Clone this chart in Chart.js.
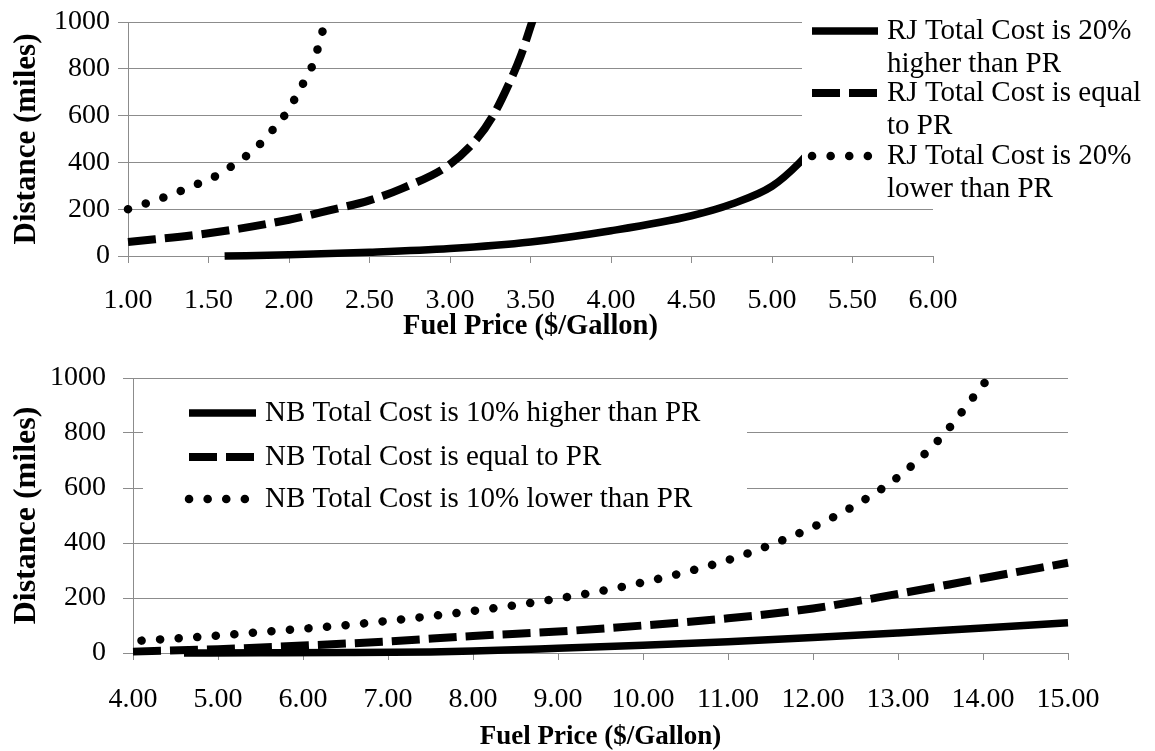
<!DOCTYPE html>
<html lang="en">
<head>
<meta charset="UTF-8">
<script src="https://cdn.jsdelivr.net/npm/chart.js"></script>
<title>Fuel price break-even distance</title>
<style>
  body { margin: 0; background: #fff; width: 1155px; height: 751px; overflow: hidden; }
  .box { position: absolute; left: 0; width: 1155px; }
  #top { top: 0; height: 345px; }
  #bot { top: 345px; height: 406px; }
</style>
</head>
<body>
<div class="box" id="top"><canvas id="chartTop"></canvas></div>
<div class="box" id="bot"><canvas id="chartBot"></canvas></div>
<script>
// ---- top chart (RJ vs PR), fuel price $/gal -> distance miles
const rjHigherPrice = [1.6, 2.0, 2.5, 3.0, 3.5, 4.0, 4.5, 4.75, 5.0, 5.17, 5.3];
const rjHigherDist  = [0, 5, 16, 32, 60, 108, 172, 222, 298, 398, 500];
const rjEqualPrice  = [1.0, 1.5, 2.0, 2.25, 2.5, 2.7, 3.0, 3.17, 3.27, 3.37, 3.44, 3.51, 3.53];
const rjEqualDist   = [60, 97, 155, 195, 238, 288, 392, 503, 603, 742, 856, 1000, 1040];
const rjLowerPrice  = [1.0, 1.1, 1.2, 1.3, 1.4, 1.5, 1.6, 1.7, 1.8, 1.9, 2.0, 2.05, 2.1, 2.15, 2.2, 2.225];
const rjLowerDist   = [200, 222, 245, 270, 300, 325, 365, 410, 465, 540, 628, 690, 753, 822, 940, 1000];
const rjNames = [
  ['RJ Total Cost is 20%', 'higher than PR'],
  ['RJ Total Cost is equal', 'to PR'],
  ['RJ Total Cost is 20%', 'lower than PR']
];
const rjTicksX = { min: 1, max: 6, step: 0.5 };

// ---- bottom chart (NB vs PR)
const nbHigherPrice = [4.6, 5.5, 6.5, 7.5, 8.0, 9.0, 10.0, 11.0, 12.0, 13.0, 14.0, 15.0];
const nbHigherDist  = [0, 0.5, 1.5, 4, 7, 17, 28, 41, 56, 73, 91, 110];
const nbEqualPrice  = [4.0, 5.0, 6.0, 7.0, 8.0, 9.0, 10.0, 11.0, 12.0, 13.0, 14.0, 15.0];
const nbEqualDist   = [5, 14, 27, 42, 62, 78, 100, 126, 162, 215, 272, 328];
const nbLowerPrice  = [4.1, 4.5, 5.0, 5.5, 6.0, 6.5, 7.0, 7.5, 8.0, 8.5, 9.0, 9.5, 10.0, 10.5, 11.0, 11.5, 12.0, 12.5, 13.0, 13.5, 14.0, 14.08];
const nbLowerDist   = [45, 53, 63, 76, 88, 101, 117, 134, 153, 174, 198, 225, 257, 294, 338, 393, 458, 538, 640, 782, 975, 1005];
const nbNames = [
  ['NB Total Cost is 10% higher than PR'],
  ['NB Total Cost is equal to PR'],
  ['NB Total Cost is 10% lower than PR']
];
const nbTicksX = { min: 4, max: 15, step: 1 };

const distTicks = { min: 0, max: 1000, step: 200 };

const SERIF = '"Liberation Serif", "Times New Roman", serif';
const GRID = '#8c8c8c';

function pts(xs, ys) {
  return xs.map((x, i) => ({ x: x, y: ys[i] }));
}

function styleSolid(ds) {
  return Object.assign(ds, { borderWidth: 7.5, borderDash: [], borderCapStyle: 'butt' });
}
function styleDash(ds) {
  return Object.assign(ds, { borderWidth: 8, borderDash: [28, 9], borderCapStyle: 'butt' });
}
function styleDot(ds) {
  return Object.assign(ds, { borderWidth: 8.5, borderDash: [0.1, 18.5], borderCapStyle: 'round' });
}

function makeSets(names, series) {
  const styles = [styleSolid, styleDash, styleDot];
  return series.map((s, i) => styles[i]({
    label: names[i].join(' '),
    data: pts(s[0], s[1]),
    borderColor: '#000',
    pointRadius: 0,
    fill: false,
    cubicInterpolationMode: 'monotone',
    clip: { left: 6, top: 0, right: 6, bottom: 10 }
  }));
}

// legend drawn over the plot with a white box, like the original
function boxLegend(cfg) {
  return {
    id: 'boxLegend',
    afterDatasetsDraw(chart) {
      const ctx = chart.ctx;
      ctx.save();
      ctx.fillStyle = '#fff';
      ctx.fillRect(cfg.box[0], cfg.box[1], cfg.box[2], cfg.box[3]);
      ctx.font = cfg.font;
      ctx.textBaseline = 'middle';
      ctx.textAlign = 'left';
      chart.data.datasets.forEach((ds, i) => {
        const y = cfg.rows[i];
        ctx.beginPath();
        ctx.strokeStyle = '#000';
        ctx.lineWidth = ds.borderWidth;
        ctx.setLineDash(ds.borderDash);
        ctx.lineCap = ds.borderCapStyle;
        ctx.moveTo(cfg.mark[0], y);
        ctx.lineTo(cfg.mark[1], y);
        ctx.stroke();
        ctx.fillStyle = '#000';
        cfg.names[i].forEach((line, j) => {
          ctx.fillText(line, cfg.textX, y + j * cfg.lineGap);
        });
      });
      ctx.restore();
    }
  };
}

function makeChart(id, o) {
  return new Chart(document.getElementById(id), {
    type: 'line',
    data: { datasets: o.sets },
    plugins: [o.legend],
    options: {
      responsive: true,
      maintainAspectRatio: false,
      animation: false,
      layout: { padding: o.padding },
      plugins: { legend: { display: false }, tooltip: { enabled: false } },
      scales: {
        x: {
          type: 'linear',
          min: o.xt.min, max: o.xt.max,
          afterFit: s => { s.height = o.xh; },
          ticks: {
            stepSize: o.xt.step, autoSkip: false, maxRotation: 0,
            color: '#000', padding: o.xpad,
            font: { family: SERIF, size: 28, lineHeight: 1 },
            callback: v => Number(v).toFixed(2)
          },
          grid: { drawOnChartArea: false, color: GRID, tickLength: 7 },
          border: { color: GRID },
          title: {
            display: true, text: 'Fuel Price ($/Gallon)', color: '#000',
            font: { family: SERIF, size: o.xtitleSize, weight: 'bold', lineHeight: 1 },
            padding: { top: 0, bottom: o.xtitlePad }
          }
        },
        y: {
          min: distTicks.min, max: distTicks.max,
          afterFit: s => { s.width = o.yw; },
          ticks: {
            stepSize: distTicks.step, color: '#000', padding: o.ypad,
            font: { family: SERIF, size: 28, lineHeight: 1 },
            callback: v => String(v)
          },
          grid: { color: GRID, tickLength: 10 },
          border: { color: GRID },
          title: {
            display: true, text: 'Distance (miles)', color: '#000',
            font: { family: SERIF, size: o.ytitleSize, weight: 'bold', lineHeight: 1 },
            padding: { top: 27 - o.ytitleSize / 2, bottom: 0 }
          }
        }
      }
    }
  });
}

makeChart('chartTop', {
  sets: makeSets(rjNames, [[rjHigherPrice, rjHigherDist], [rjEqualPrice, rjEqualDist], [rjLowerPrice, rjLowerDist]]),
  legend: boxLegend({
    box: [802, 0, 353, 203], mark: [812, 878], textX: 887,
    rows: [31, 93, 156], lineGap: 33, names: rjNames,
    font: '29px ' + SERIF
  }),
  padding: { top: 19, right: 222, bottom: 0, left: 0 },
  xt: rjTicksX, xh: 89, xpad: 24, yw: 128, ypad: 8,
  xtitleSize: 28.5, xtitlePad: 4, ytitleSize: 31
});

makeChart('chartBot', {
  sets: makeSets(nbNames, [[nbHigherPrice, nbHigherDist], [nbEqualPrice, nbEqualDist], [nbLowerPrice, nbLowerDist]]),
  legend: boxLegend({
    box: [143, 40, 604, 150], mark: [189, 256], textX: 265,
    rows: [68, 112, 154], lineGap: 0, names: nbNames,
    font: '29px ' + SERIF
  }),
  padding: { top: 33, right: 87, bottom: 0, left: 0 },
  xt: nbTicksX, xh: 98, xpad: 26, yw: 133, ypad: 17,
  xtitleSize: 27, xtitlePad: 0.5, ytitleSize: 32
});
</script>
</body>
</html>
